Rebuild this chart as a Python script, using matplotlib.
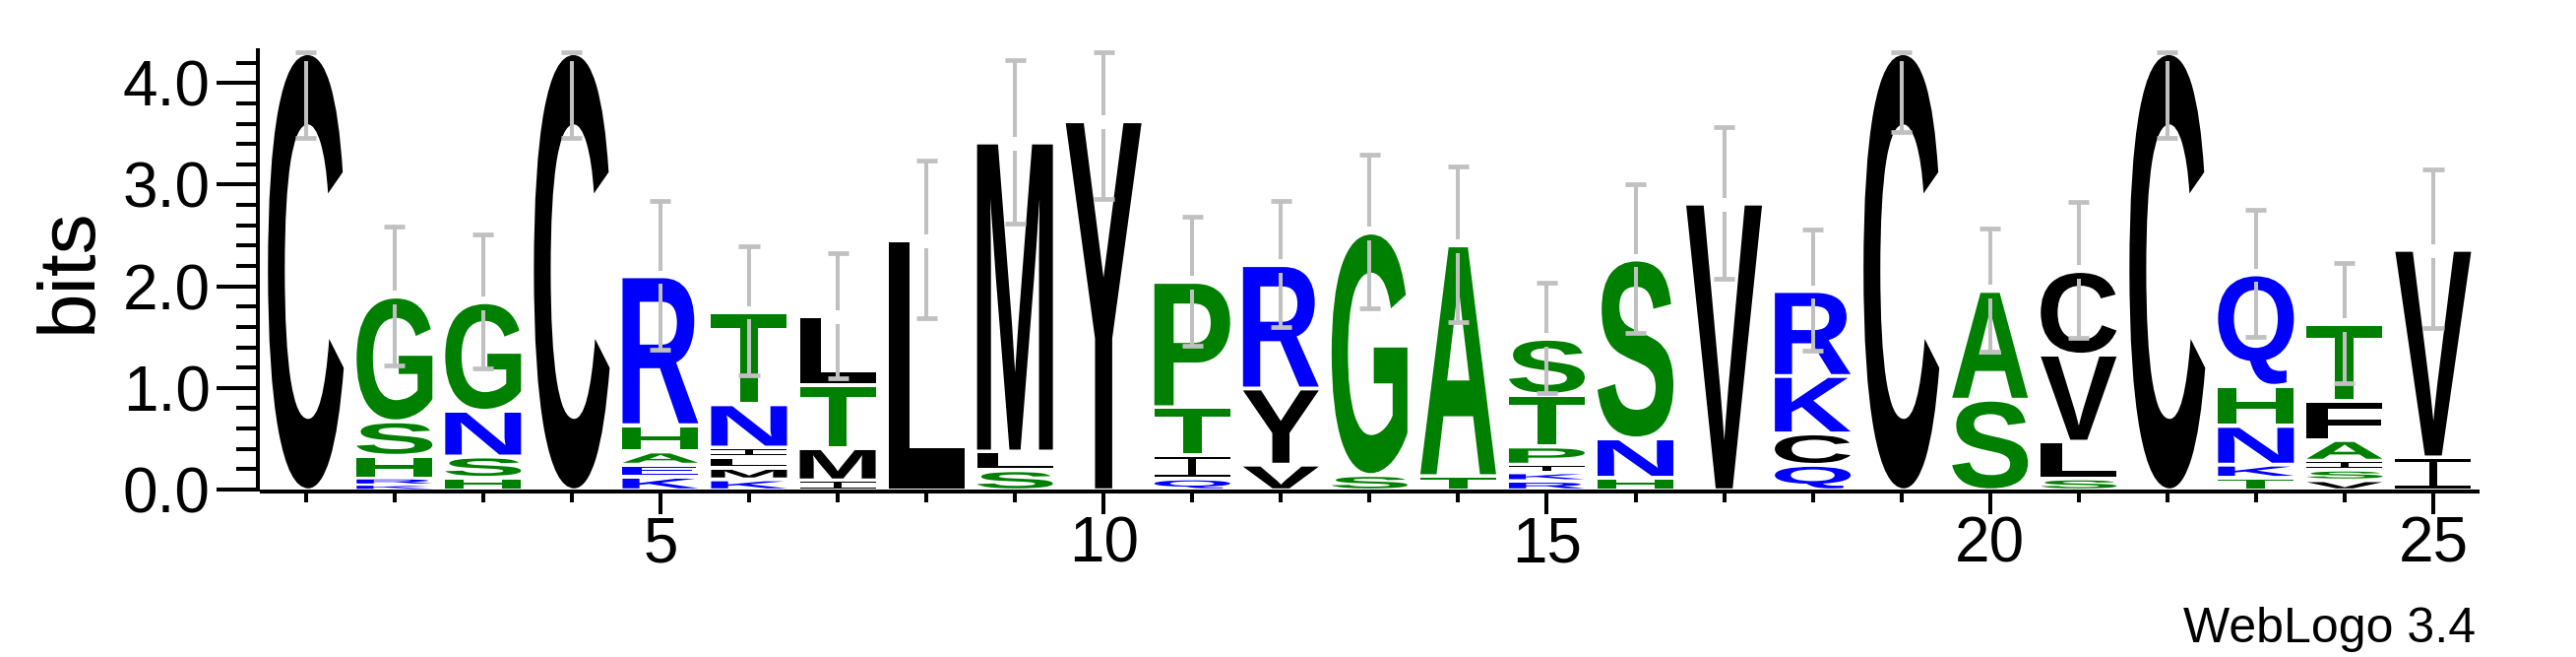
import matplotlib
matplotlib.use("Agg")
import matplotlib.pyplot as plt
from matplotlib.textpath import TextPath
from matplotlib.path import Path
from matplotlib.patches import PathPatch
from matplotlib.font_manager import FontProperties
from matplotlib.transforms import Affine2D
from matplotlib.ticker import FixedLocator, MultipleLocator, FormatStrFormatter

# ---------------- data (letters listed bottom -> top, heights in bits) ----------------
positions = list(range(1, 26))
stack_letters = [
    "C", "KRHSG", "HSNG", "C", "KEAHR", "KMLINT", "IMTL", "L", "SLM", "Y",
    "QITP", "VYR", "SG", "TA", "RKIPTS", "HNS", "V", "QCKR", "C", "SA",
    "SLVC", "C", "TKNHQ", "VSIAFT", "IV",
]
stack_heights = [
    [4.30],
    [0.050, 0.066, 0.223, 0.339, 1.227],
    [0.123, 0.209, 0.450, 1.068],
    [4.30],
    [0.133, 0.119, 0.129, 0.259, 1.465],
    [0.107, 0.113, 0.107, 0.093, 0.426, 0.909],
    [0.097, 0.317, 0.620, 0.680],
    [2.46],
    [0.197, 0.184, 3.040],
    [3.63],
    [0.116, 0.233, 0.468, 1.233],
    [0.252, 0.749, 1.214],
    [0.150, 2.385],
    [0.139, 2.270],
    [0.090, 0.081, 0.081, 0.178, 0.510, 0.550],
    [0.123, 0.387, 1.760],
    [2.82],
    [0.250, 0.309, 0.565, 0.836],
    [4.30],
    [0.891, 1.070],
    [0.116, 0.362, 0.856, 0.823],
    [4.30],
    [0.123, 0.129, 0.381, 0.394, 1.097],
    [0.097, 0.106, 0.088, 0.203, 0.388, 0.753],
    [0.323, 2.042],
]
errors = [0.84, 0.68, 0.66, 0.84, 0.73, 0.635, 0.615, 0.775, 0.80, 0.775,
          0.633, 0.62, 0.755, 0.765, 0.545, 0.73, 0.75, 0.594, 0.78, 0.605,
          0.668, 0.84, 0.625, 0.59, 0.78]
y_ticks = [0, 1, 2, 3, 4]
x_ticks = [5, 10, 15, 20, 25]
y_max = 4.32

# WebLogo "hydrophobicity" colour scheme
GREEN, BLUE, BLACK = "#008000", "#0000ff", "#000000"
letter_colors = {}
for c in "RKDENQ":
    letter_colors[c] = BLUE
for c in "SGHTAP":
    letter_colors[c] = GREEN
for c in "YVMCLFIW":
    letter_colors[c] = BLACK

# ---------------- figure ----------------
W, H, DPI = 2617, 667, 100
plt.rcParams["font.family"] = ["Liberation Sans", "DejaVu Sans"]
fig = plt.figure(figsize=(W / DPI, H / DPI), dpi=DPI)
ax_left, ax_right = 265.7, 2517.0
ax_base, ax_top = 497.0, 51.2
ax = fig.add_axes([ax_left / W, (H - ax_base) / H, (ax_right - ax_left) / W, (ax_base - ax_top) / H])
ax.set_xlim(0.5, 25.5)
ax.set_ylim(0, y_max)

glyph_fp = FontProperties(family="Liberation Sans", weight="bold")
_cache = {}


def ibeam_path():
    t, s = 0.10, 0.11
    a, b = 0.5 - s / 2, 0.5 + s / 2
    verts = [(0, 0), (1, 0), (1, t), (b, t), (b, 1 - t), (1, 1 - t), (1, 1),
             (0, 1), (0, 1 - t), (a, 1 - t), (a, t), (0, t), (0, 0)]
    codes = [Path.MOVETO] + [Path.LINETO] * 11 + [Path.CLOSEPOLY]
    return Path(verts, codes)


def glyph(ch):
    if ch not in _cache:
        if ch == "I":
            _cache[ch] = ibeam_path()
        else:
            _cache[ch] = TextPath((0, 0), ch, size=1, prop=glyph_fp)
    return _cache[ch]


LETTER_W = 0.855
tops = []
for x, letters, heights in zip(positions, stack_letters, stack_heights):
    y0 = 0.0
    for ch, h in zip(letters, heights):
        p = glyph(ch)
        ext = p.get_extents()
        pb = min(0.012, 0.15 * h)
        pt = min(0.026, 0.25 * h)
        gh = h - pb - pt
        tr = (Affine2D()
              .translate(-ext.x0, -ext.y0)
              .scale(LETTER_W / ext.width, gh / ext.height)
              .translate(x - LETTER_W / 2, y0 + pb))
        ax.add_patch(PathPatch(tr.transform_path(p), facecolor=letter_colors[ch],
                               edgecolor="none", lw=0, zorder=2))
        y0 += h
    tops.append(y0)

# error bars
EB_COLOR = "#c0c0c0"
EB_LW = 2.9
cap_half = 0.117
gap_up, gap_dn = 0.05, 0.083
for x, top, e in zip(positions, tops, errors):
    hi = min(top + e, y_max - 0.015)
    lo = top - e
    if top + gap_up < hi:
        ax.plot([x, x], [top + gap_up, hi], color=EB_COLOR, lw=EB_LW,
                solid_capstyle="butt", zorder=3, clip_on=False)
    ax.plot([x, x], [lo, top - gap_dn], color=EB_COLOR, lw=EB_LW,
            solid_capstyle="butt", zorder=3, clip_on=False)
    for yy in (hi, lo):
        ax.plot([x - cap_half, x + cap_half], [yy, yy], color=EB_COLOR, lw=3.4,
                solid_capstyle="butt", zorder=3, clip_on=False)

# axes styling
for s in ("top", "right"):
    ax.spines[s].set_visible(False)
ax.spines["left"].set_position(("outward", 2.45))
ax.spines["bottom"].set_position(("outward", 1.2))
ax.spines["left"].set_linewidth(2.9)
ax.spines["bottom"].set_linewidth(2.9)

ax.yaxis.set_major_locator(FixedLocator(y_ticks))
ax.yaxis.set_minor_locator(MultipleLocator(0.2))
ax.yaxis.set_major_formatter(FormatStrFormatter("%.1f"))
ax.xaxis.set_major_locator(FixedLocator(x_ticks))
ax.xaxis.set_minor_locator(MultipleLocator(1))

ax.tick_params(axis="y", which="major", length=30, width=2.9, pad=5, labelsize=46)
ax.tick_params(axis="y", which="minor", length=15.5, width=2.9)
ax.tick_params(axis="x", which="major", length=16.5, width=2.9, pad=1.5, labelsize=46)
ax.tick_params(axis="x", which="minor", length=8, width=2.9)

fig.text(71 / W, (H - 274) / H, "bits", rotation=90, ha="center", va="center", fontsize=59)
fig.text(2515 / W, (H - 651.7) / H, "WebLogo 3.4", ha="right", va="baseline", fontsize=36)

fig.savefig("out.png", dpi=DPI)
